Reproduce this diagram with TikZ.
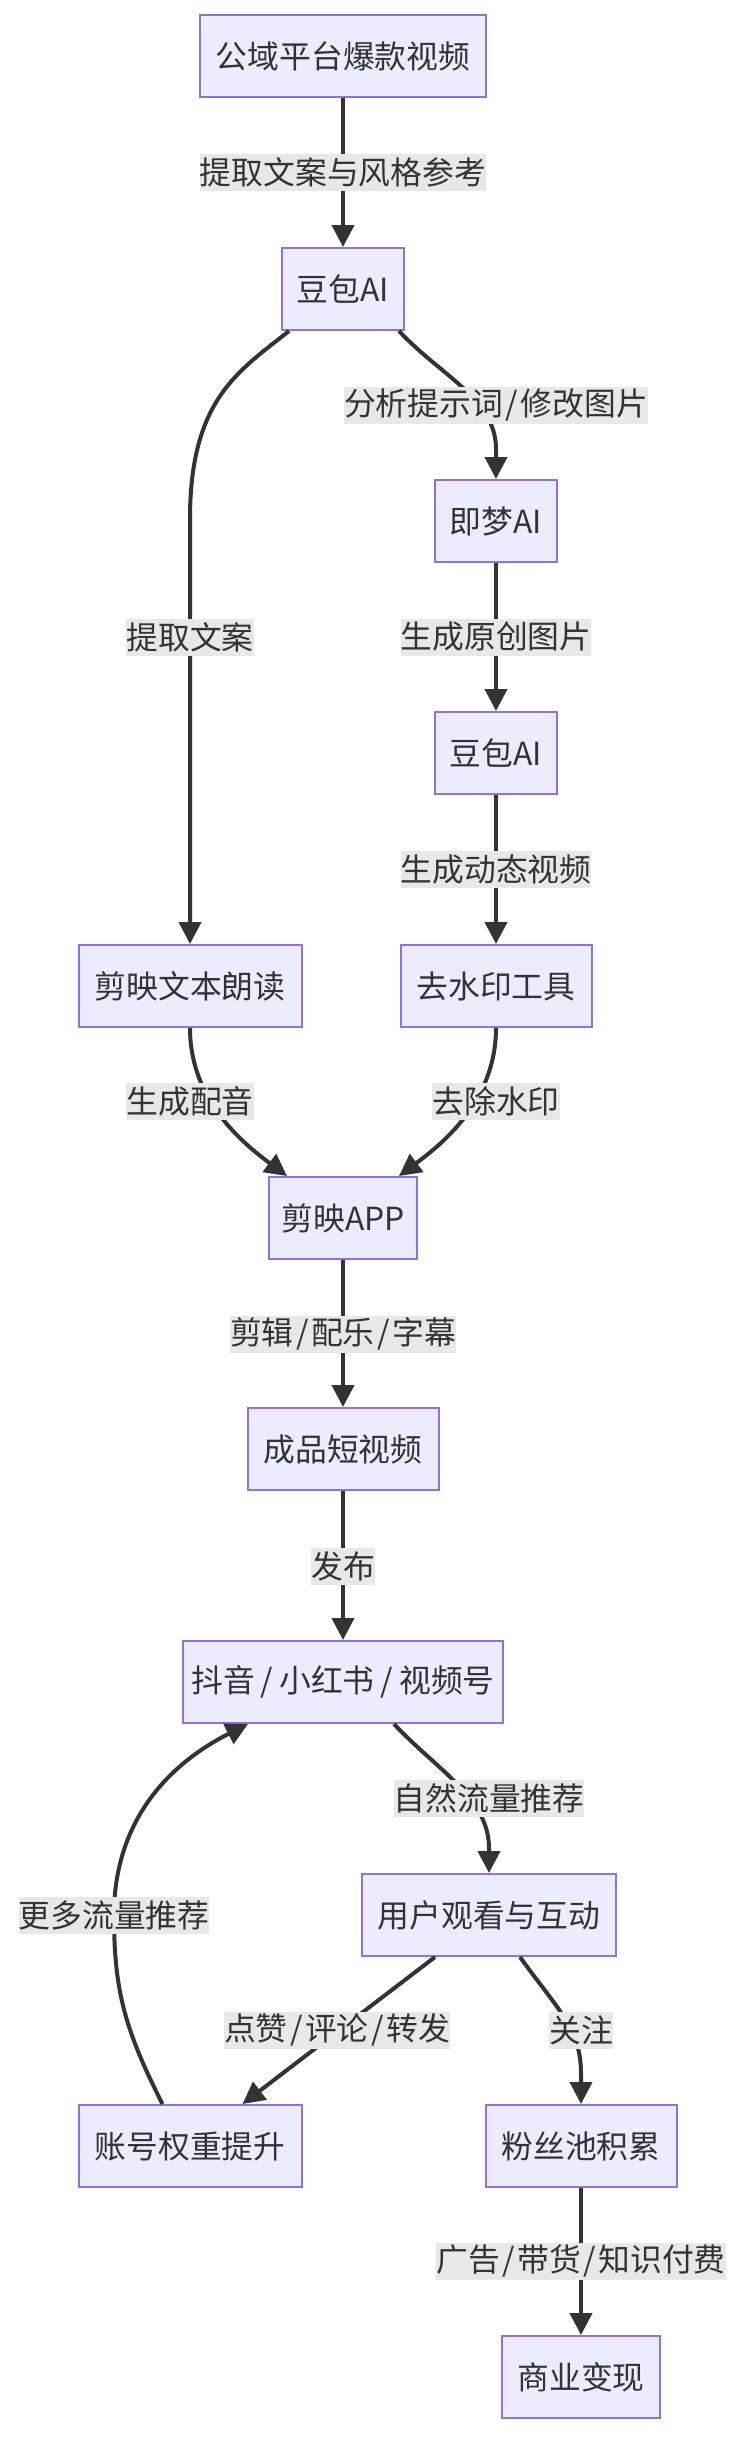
\documentclass[tikz,border=0pt]{standalone}
\usepackage{fontspec}
\newfontfamily\cjk{Noto Sans CJK SC}
\usetikzlibrary{arrows.meta,calc}
\definecolor{nodefill}{HTML}{ECECFF}
\definecolor{nodeline}{HTML}{9370DB}
\definecolor{txt}{HTML}{333333}
\definecolor{lblbg}{HTML}{E8E8E8}
\newcommand\myslash[1]{\kern#1/\kern#1}
\begin{document}
\begin{tikzpicture}[x=1pt,y=-1pt,
  box/.style={draw=nodeline,fill=nodefill,line width=2pt,minimum height=82pt,inner sep=0pt,text=txt,font=\cjk\fontsize{31.8pt}{38pt}\selectfont},
  lbl/.style={fill=lblbg,minimum height=37pt,inner xsep=0pt,inner ysep=0pt,text=txt,font=\cjk\fontsize{31.8pt}{38pt}\selectfont},
  edge/.style={draw=txt,line width=4pt,-{Triangle[length=22pt,width=22pt]}}]
\useasboundingbox (0,0) rectangle (744,2438);
\fill[white] (0,0) rectangle (744,2438);

\node[box,minimum width=286pt] (A) at (343,56.5) {公域平台爆款视频};
\node[box,minimum width=122pt] (B) at (343,289) {豆包AI};
\node[box,minimum width=122pt] (C) at (496,521) {即梦AI};
\node[box,minimum width=122pt] (D) at (496,753) {豆包AI};
\node[box,minimum width=223pt] (E) at (190,986) {剪映文本朗读};
\node[box,minimum width=191pt] (F) at (496,986) {去水印工具};
\node[box,minimum width=148pt] (G) at (343,1218) {剪映APP};
\node[box,minimum width=191pt] (H) at (343,1449) {成品短视频};
\node[box,minimum width=320pt] (I) at (343,1682) {抖音\myslash{6pt}小红书\myslash{6pt}视频号};
\node[box,minimum width=254pt] (J) at (489,1915) {用户观看与互动};
\node[box,minimum width=223pt] (K) at (190,2146) {账号权重提升};
\node[box,minimum width=191pt] (L) at (581,2146) {粉丝池积累};
\node[box,minimum width=158pt] (M) at (581,2377) {商业变现};

\coordinate (k1) at (114,1915);

\draw[edge] (A) -- (B);
\draw[edge] ($(B.south west)+(8,0)$) .. controls +(-50,40) and +(0,-120) .. ($(E.north)+(0,-425)$) -- (E.north);
\draw[edge] ($(B.south east)+(-6,0)$) .. controls +(42,45) and +(0,-50) .. ($(C.north)+(0,-30)$) -- (C.north);
\draw[edge] (C) -- (D);
\draw[edge] (D) -- (F);
\draw[edge] (E.south) .. controls +(0,73) and +(-43,-32) .. ($(G.north west)+(19,0)$);
\draw[edge] (F.south) .. controls +(0,73) and +(43,-32) .. ($(G.north east)+(-19,0)$);
\draw[edge] (G) -- (H);
\draw[edge] (H) -- (I);
\draw[edge] ($(I.south east)+(-110,0)$) .. controls +(42,45) and +(0,-50) .. ($(J.north)+(0,-25)$) -- (J.north);
\draw[edge] ($(J.south west)+(74,0)$) -- ($(K.north east)+(-60,0)$);
\draw[edge] ($(J.south west)+(159,0)$) .. controls +(39,54) and +(0,-45) .. ($(L.north)+(0,-30)$) -- (L.north);
\draw[edge] (L) -- (M);
\draw[edge] ($(K.north west)+(85,0)$) .. controls +(-38,-75) and +(0,75) .. (k1) .. controls +(0,-85) and +(-89,45) .. ($(I.south west)+(66,0)$);

\node[lbl] (l1) at (343,172) {提取文案与风格参考};
\node[lbl] (l2) at (496,405) {分析提示词\myslash{2.5pt}修改图片};
\node[lbl] (l3) at (190,637) {提取文案};
\node[lbl] (l4) at (496,637) {生成原创图片};
\node[lbl] (l5) at (496,869) {生成动态视频};
\node[lbl] (l6) at (190,1101) {生成配音};
\node[lbl] (l7) at (496,1101) {去除水印};
\node[lbl] (l8) at (343,1334) {剪辑\myslash{2.5pt}配乐\myslash{2.5pt}字幕};
\node[lbl] (l9) at (343,1566) {发布};
\node[lbl] (l10) at (489,1798) {自然流量推荐};
\node[lbl] (l11) at (k1) {更多流量推荐};
\node[lbl] (l12) at (337,2030) {点赞\myslash{2.5pt}评论\myslash{2.5pt}转发};
\node[lbl] (l13) at (581,2030) {关注};
\node[lbl] (l14) at (581,2261) {广告\myslash{2.5pt}带货\myslash{2.5pt}知识付费};
\end{tikzpicture}
\end{document}
